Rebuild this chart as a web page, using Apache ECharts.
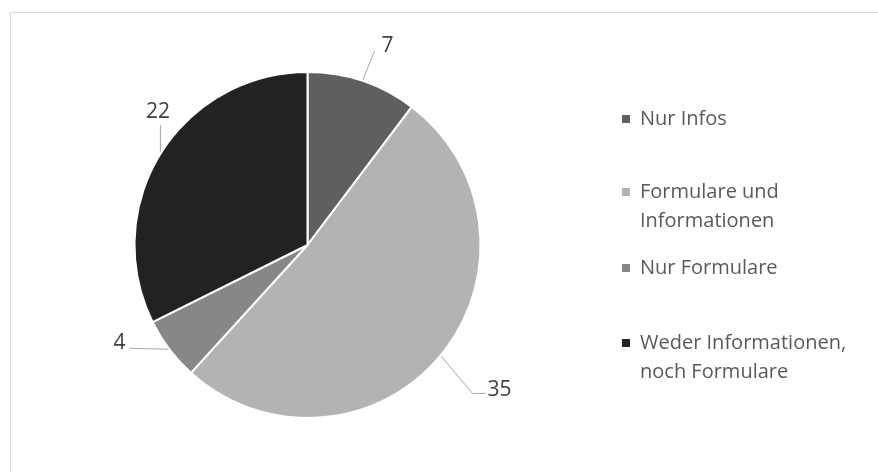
<!DOCTYPE html>
<html>
<head>
<meta charset="utf-8">
<script src="https://cdn.jsdelivr.net/npm/echarts@6/dist/echarts.min.js"></script>
<style>
  html, body { margin: 0; padding: 0; background: #fff; }
  #chart { width: 878px; height: 472px; }
</style>
</head>
<body>
<div id="chart"></div>
<script>
// Antworten je Kategorie
const categories = ['Nur Infos', 'Formulare und Informationen', 'Nur Formulare', 'Weder Informationen, noch Formulare'];
const legendLines = [['Nur Infos'], ['Formulare und', 'Informationen'], ['Nur Formulare'], ['Weder Informationen,', 'noch Formulare']];
const values = [7, 35, 4, 22];
const colors = ['#5f5f5f', '#b3b3b3', '#878787', '#222222'];

// Leader line geometry per slice: offset of the bend from the edge point,
// horizontal tail, and how the value text sits at the end of the line.
const leaderStyle = [
  { d: [12, -30], tail: 0,  tx: 7,    ty: -5, align: 'left',   vAlign: 'middle' },
  { d: [32, 38],  tail: 13, tx: 2,    ty: -4, align: 'left',   vAlign: 'middle' },
  { d: [-40, -1], tail: 0,  tx: -4,   ty: -5, align: 'right',  vAlign: 'middle' },
  { d: [0, -29],  tail: 0,  tx: -2.5, ty: -2, align: 'center', vAlign: 'bottom' }
];

// Legend rows: vertical centre of each entry's first line
const legendTops = [119, 192, 268, 343];
const LINE_H = 29;

const FONT = '"Open Sans", "DejaVu Sans", sans-serif';
const chart = echarts.init(document.getElementById('chart'), null, { renderer: 'canvas' });

const richStyles = {
  g: { width: 10, height: 8 },
  i: { width: 18, height: 8 },
  t: { fontFamily: FONT, fontSize: 20, color: '#595959', lineHeight: LINE_H, height: LINE_H }
};
colors.forEach((c, i) => {
  richStyles['m' + i] = { width: 8, height: 8, backgroundColor: c };
});

const legends = categories.map((name, i) => ({
  orient: 'vertical',
  left: 616,
  top: legendTops[i] - LINE_H / 2,
  itemWidth: 1,
  itemHeight: 1,
  icon: 'rect',
  padding: 0,
  itemGap: 0,
  selectedMode: false,
  itemStyle: { opacity: 0, borderWidth: 0 },
  data: [name],
  formatter: function () {
    return legendLines[i].map((line, k) =>
      (k === 0 ? '{m' + i + '| }{g| }' : '{i| }') + '{t|' + line + '}'
    ).join('\n');
  },
  textStyle: {
    fontFamily: FONT,
    fontSize: 20,
    color: '#595959',
    lineHeight: LINE_H,
    rich: richStyles
  }
}));

chart.setOption({
  animation: false,
  color: colors,
  graphic: [{
    type: 'rect',
    shape: { x: 10.5, y: 12.5, width: 880, height: 480 },
    style: { fill: null, stroke: '#d9d9d9', lineWidth: 1 },
    silent: true
  }],
  legend: legends,
  series: [{
    type: 'pie',
    center: [307.5, 245],
    radius: 173,
    startAngle: 90,
    clockwise: true,
    avoidLabelOverlap: false,
    itemStyle: { borderColor: '#ffffff', borderWidth: 2 },
    label: {
      show: true,
      position: 'outside',
      formatter: '{c}',
      fontFamily: FONT,
      fontSize: 21,
      color: '#404040'
    },
    labelLine: {
      show: true,
      length: 20,
      length2: 0,
      lineStyle: { color: '#a6a6a6', width: 1 }
    },
    labelLayout: function (p) {
      const s = leaderStyle[p.dataIndex];
      const a = p.labelLinePoints[0];
      const b = [a[0] + s.d[0], a[1] + s.d[1]];
      const c = [b[0] + s.tail, b[1]];
      return {
        x: c[0] + s.tx,
        y: c[1] + s.ty,
        align: s.align,
        verticalAlign: s.vAlign,
        labelLinePoints: [a, b, c]
      };
    },
    data: categories.map((name, i) => ({ name: name, value: values[i] }))
  }]
});
</script>
</body>
</html>
